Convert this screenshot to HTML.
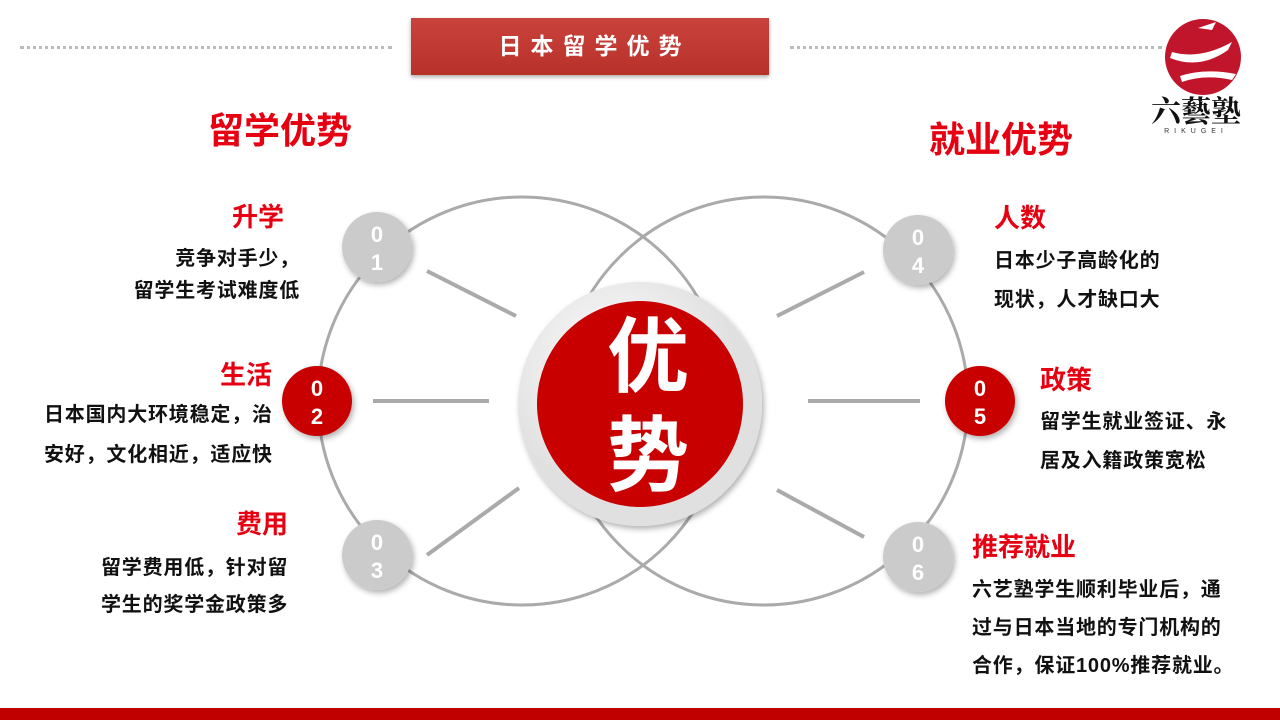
<!DOCTYPE html>
<html><head><meta charset="utf-8"><style>
body{margin:0;width:1280px;height:720px;overflow:hidden;background:#fff;font-family:"Liberation Sans","Noto Sans CJK SC",sans-serif;position:relative}
.a{position:absolute;white-space:nowrap}
.h{color:#e60012;font-weight:bold;font-size:26px;line-height:30px}
.t{color:#111;font-weight:bold;font-size:20px;letter-spacing:0.8px}
.big{color:#e60012;font-weight:bold;font-size:36px;line-height:40px}
</style></head><body>
<div class="a" style="left:20px;top:46px;width:372px;border-top:3px dotted #bbb"></div>
<div class="a" style="left:790px;top:46px;width:372px;border-top:3px dotted #bbb"></div>
<div class="a" style="left:411px;top:18px;width:358px;height:57px;background:linear-gradient(#c9433c,#b8302a);color:#fff;font-size:23px;font-weight:bold;text-align:center;line-height:57px;letter-spacing:9px;text-indent:9px;box-shadow:0 2px 4px #aaa">日本留学优势</div>
<div class="a" style="left:0;top:708px;width:1280px;height:12px;background:#c00000"></div>
<svg class="a" style="left:0;top:0" width="1280" height="720">
<defs><radialGradient id="g" cx="40%" cy="35%"><stop offset="0" stop-color="#fff"/><stop offset="1" stop-color="#e0e0e0"/></radialGradient>
<filter id="s"><feDropShadow dx="2" dy="3" stdDeviation="3" flood-opacity="0.3"/></filter></defs>
<circle cx="522" cy="401" r="204" fill="none" stroke="#aaa" stroke-width="3"/>
<circle cx="764" cy="401" r="204" fill="none" stroke="#aaa" stroke-width="3"/>
<g stroke="#aaa" stroke-width="4">
<line x1="427" y1="271" x2="516" y2="316"/><line x1="373" y1="401" x2="489" y2="401"/><line x1="427" y1="555" x2="519" y2="488"/>
<line x1="777" y1="316" x2="864" y2="272"/><line x1="808" y1="401" x2="920" y2="401"/><line x1="777" y1="490" x2="864" y2="537"/>
</g>
<circle cx="640" cy="404" r="122" fill="url(#g)" filter="url(#s)"/>
<circle cx="640" cy="404" r="103" fill="#c80000"/>
<text x="648" y="385" font-size="82" font-weight="bold" fill="#fff" text-anchor="middle" font-family="Noto Sans CJK SC">优</text>
<text x="648" y="484" font-size="82" font-weight="bold" fill="#fff" text-anchor="middle" font-family="Noto Sans CJK SC">势</text>
<g filter="url(#s)">
<circle cx="377" cy="247" r="35" fill="#cbcbcb"/><circle cx="317" cy="401" r="35" fill="#c80000"/><circle cx="377" cy="555" r="35" fill="#cbcbcb"/>
<circle cx="918" cy="250" r="35" fill="#cbcbcb"/><circle cx="980" cy="401" r="35" fill="#c80000"/><circle cx="918" cy="557" r="35" fill="#cbcbcb"/>
</g>
<g fill="#fff" font-size="22" font-weight="bold" text-anchor="middle" font-family="Liberation Sans">
<text x="377" y="242">0</text><text x="377" y="270">1</text>
<text x="317" y="396">0</text><text x="317" y="424">2</text>
<text x="377" y="550">0</text><text x="377" y="578">3</text>
<text x="918" y="245">0</text><text x="918" y="273">4</text>
<text x="980" y="396">0</text><text x="980" y="424">5</text>
<text x="918" y="552">0</text><text x="918" y="580">6</text>
</g>
<circle cx="1203" cy="57" r="38" fill="#c0152a"/>
<path d="M1172 52 Q1200 60 1232 42 L1228 50 Q1200 70 1170 58Z M1180 76 Q1205 68 1236 74 L1232 80 Q1205 74 1182 82Z M1198 28 L1216 22 L1212 30Z" fill="#fff"/>
<text x="1196" y="122" font-size="30" font-weight="bold" fill="#111" text-anchor="middle" font-family="Noto Serif CJK SC">六藝塾</text>
<text x="1196" y="133" font-size="7" fill="#333" text-anchor="middle" letter-spacing="5">RIKUGEI</text>
</svg>
<div class="a big" style="left:208px;top:111px">留学优势</div>
<div class="a big" style="left:929px;top:120px">就业优势</div>
<div class="a h" style="left:232px;top:202px">升学</div>
<div class="a t" style="right:980px;top:243px;text-align:right;line-height:32px">竞争对手少，<br>留学生考试难度低</div>
<div class="a h" style="left:220px;top:360px">生活</div>
<div class="a t" style="left:44px;top:395px;line-height:40px">日本国内大环境稳定，治<br>安好，文化相近，适应快</div>
<div class="a h" style="left:236px;top:509px">费用</div>
<div class="a t" style="left:101px;top:550px;line-height:37px">留学费用低，针对留<br>学生的奖学金政策多</div>
<div class="a h" style="left:994px;top:203px">人数</div>
<div class="a t" style="left:994px;top:242px;line-height:39px">日本少子高龄化的<br>现状，人才缺口大</div>
<div class="a h" style="left:1040px;top:365px">政策</div>
<div class="a t" style="left:1040px;top:403px;line-height:39px">留学生就业签证、永<br>居及入籍政策宽松</div>
<div class="a h" style="left:972px;top:532px">推荐就业</div>
<div class="a t" style="left:972px;top:571px;line-height:38px">六艺塾学生顺利毕业后，通<br>过与日本当地的专门机构的<br>合作，保证100%推荐就业。</div>
</body></html>
